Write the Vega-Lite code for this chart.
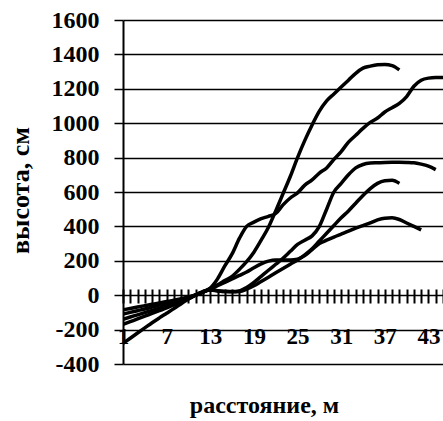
{
"$schema": "https://vega.github.io/schema/vega-lite/v6.json",
"width": 320, "height": 344,
"autosize": {"type": "none"},
"padding": {"left": 123, "top": 20, "right": 0, "bottom": 57},
"background": "white",
"config": {"view": {"stroke": null}, "font": "Liberation Serif"},
"data": {"values": [
{"s":"A","x":1,"y":-85},{"s":"A","x":2,"y":-77},{"s":"A","x":3,"y":-69},{"s":"A","x":4,"y":-61},{"s":"A","x":5,"y":-53},{"s":"A","x":6,"y":-45},{"s":"A","x":7,"y":-37},{"s":"A","x":8,"y":-29},{"s":"A","x":9,"y":-20},{"s":"A","x":10,"y":-10},{"s":"A","x":11,"y":2},{"s":"A","x":12,"y":18},{"s":"A","x":13,"y":38},{"s":"A","x":14,"y":60},{"s":"A","x":15,"y":85},{"s":"A","x":16,"y":110},{"s":"A","x":17,"y":150},{"s":"A","x":18,"y":195},{"s":"A","x":19,"y":250},{"s":"A","x":20,"y":320},{"s":"A","x":21,"y":395},{"s":"A","x":22,"y":490},{"s":"A","x":23,"y":590},{"s":"A","x":24,"y":690},{"s":"A","x":25,"y":800},{"s":"A","x":26,"y":900},{"s":"A","x":27,"y":990},{"s":"A","x":28,"y":1070},{"s":"A","x":29,"y":1130},{"s":"A","x":30,"y":1170},{"s":"A","x":31,"y":1210},{"s":"A","x":32,"y":1250},{"s":"A","x":33,"y":1290},{"s":"A","x":34,"y":1320},{"s":"A","x":35,"y":1332},{"s":"A","x":36,"y":1340},{"s":"A","x":37,"y":1342},{"s":"A","x":38,"y":1335},{"s":"A","x":39,"y":1310},
{"s":"B","x":1,"y":-110},{"s":"B","x":2,"y":-100},{"s":"B","x":3,"y":-90},{"s":"B","x":4,"y":-80},{"s":"B","x":5,"y":-69},{"s":"B","x":6,"y":-58},{"s":"B","x":7,"y":-47},{"s":"B","x":8,"y":-36},{"s":"B","x":9,"y":-24},{"s":"B","x":10,"y":-12},{"s":"B","x":11,"y":2},{"s":"B","x":12,"y":20},{"s":"B","x":13,"y":42},{"s":"B","x":14,"y":95},{"s":"B","x":15,"y":170},{"s":"B","x":16,"y":240},{"s":"B","x":17,"y":330},{"s":"B","x":18,"y":400},{"s":"B","x":19,"y":425},{"s":"B","x":20,"y":445},{"s":"B","x":21,"y":458},{"s":"B","x":22,"y":475},{"s":"B","x":23,"y":525},{"s":"B","x":24,"y":565},{"s":"B","x":25,"y":595},{"s":"B","x":26,"y":640},{"s":"B","x":27,"y":670},{"s":"B","x":28,"y":710},{"s":"B","x":29,"y":740},{"s":"B","x":30,"y":790},{"s":"B","x":31,"y":835},{"s":"B","x":32,"y":890},{"s":"B","x":33,"y":930},{"s":"B","x":34,"y":970},{"s":"B","x":35,"y":1005},{"s":"B","x":36,"y":1030},{"s":"B","x":37,"y":1065},{"s":"B","x":38,"y":1090},{"s":"B","x":39,"y":1115},{"s":"B","x":40,"y":1155},{"s":"B","x":41,"y":1215},{"s":"B","x":42,"y":1250},{"s":"B","x":43,"y":1262},{"s":"B","x":44,"y":1265},{"s":"B","x":45,"y":1265},
{"s":"C","x":1,"y":-170},{"s":"C","x":2,"y":-154},{"s":"C","x":3,"y":-138},{"s":"C","x":4,"y":-122},{"s":"C","x":5,"y":-106},{"s":"C","x":6,"y":-90},{"s":"C","x":7,"y":-74},{"s":"C","x":8,"y":-57},{"s":"C","x":9,"y":-39},{"s":"C","x":10,"y":-20},{"s":"C","x":11,"y":0},{"s":"C","x":12,"y":18},{"s":"C","x":13,"y":32},{"s":"C","x":14,"y":26},{"s":"C","x":15,"y":22},{"s":"C","x":16,"y":22},{"s":"C","x":17,"y":25},{"s":"C","x":18,"y":45},{"s":"C","x":19,"y":75},{"s":"C","x":20,"y":110},{"s":"C","x":21,"y":145},{"s":"C","x":22,"y":180},{"s":"C","x":23,"y":215},{"s":"C","x":24,"y":255},{"s":"C","x":25,"y":295},{"s":"C","x":26,"y":320},{"s":"C","x":27,"y":345},{"s":"C","x":28,"y":400},{"s":"C","x":29,"y":500},{"s":"C","x":30,"y":600},{"s":"C","x":31,"y":650},{"s":"C","x":32,"y":700},{"s":"C","x":33,"y":740},{"s":"C","x":34,"y":760},{"s":"C","x":35,"y":768},{"s":"C","x":36,"y":770},{"s":"C","x":37,"y":772},{"s":"C","x":38,"y":773},{"s":"C","x":39,"y":773},{"s":"C","x":40,"y":772},{"s":"C","x":41,"y":770},{"s":"C","x":42,"y":762},{"s":"C","x":43,"y":750},{"s":"C","x":44,"y":730},
{"s":"D","x":1,"y":-280},{"s":"D","x":2,"y":-250},{"s":"D","x":3,"y":-220},{"s":"D","x":4,"y":-190},{"s":"D","x":5,"y":-160},{"s":"D","x":6,"y":-132},{"s":"D","x":7,"y":-105},{"s":"D","x":8,"y":-78},{"s":"D","x":9,"y":-50},{"s":"D","x":10,"y":-22},{"s":"D","x":11,"y":2},{"s":"D","x":12,"y":20},{"s":"D","x":13,"y":30},{"s":"D","x":14,"y":25},{"s":"D","x":15,"y":22},{"s":"D","x":16,"y":20},{"s":"D","x":17,"y":22},{"s":"D","x":18,"y":35},{"s":"D","x":19,"y":55},{"s":"D","x":20,"y":80},{"s":"D","x":21,"y":105},{"s":"D","x":22,"y":130},{"s":"D","x":23,"y":155},{"s":"D","x":24,"y":180},{"s":"D","x":25,"y":205},{"s":"D","x":26,"y":235},{"s":"D","x":27,"y":270},{"s":"D","x":28,"y":315},{"s":"D","x":29,"y":360},{"s":"D","x":30,"y":405},{"s":"D","x":31,"y":450},{"s":"D","x":32,"y":490},{"s":"D","x":33,"y":535},{"s":"D","x":34,"y":580},{"s":"D","x":35,"y":620},{"s":"D","x":36,"y":650},{"s":"D","x":37,"y":665},{"s":"D","x":38,"y":668},{"s":"D","x":39,"y":650},
{"s":"E","x":1,"y":-140},{"s":"E","x":2,"y":-127},{"s":"E","x":3,"y":-114},{"s":"E","x":4,"y":-101},{"s":"E","x":5,"y":-88},{"s":"E","x":6,"y":-75},{"s":"E","x":7,"y":-62},{"s":"E","x":8,"y":-48},{"s":"E","x":9,"y":-33},{"s":"E","x":10,"y":-17},{"s":"E","x":11,"y":0},{"s":"E","x":12,"y":18},{"s":"E","x":13,"y":35},{"s":"E","x":14,"y":55},{"s":"E","x":15,"y":75},{"s":"E","x":16,"y":95},{"s":"E","x":17,"y":115},{"s":"E","x":18,"y":135},{"s":"E","x":19,"y":160},{"s":"E","x":20,"y":182},{"s":"E","x":21,"y":198},{"s":"E","x":22,"y":205},{"s":"E","x":23,"y":205},{"s":"E","x":24,"y":205},{"s":"E","x":25,"y":210},{"s":"E","x":26,"y":230},{"s":"E","x":27,"y":265},{"s":"E","x":28,"y":300},{"s":"E","x":29,"y":320},{"s":"E","x":30,"y":338},{"s":"E","x":31,"y":355},{"s":"E","x":32,"y":372},{"s":"E","x":33,"y":390},{"s":"E","x":34,"y":405},{"s":"E","x":35,"y":420},{"s":"E","x":36,"y":438},{"s":"E","x":37,"y":448},{"s":"E","x":38,"y":450},{"s":"E","x":39,"y":440},{"s":"E","x":40,"y":420},{"s":"E","x":41,"y":400},{"s":"E","x":42,"y":380}
]},
"mark": {"type": "line", "color": "black", "strokeWidth": 3.5, "interpolate": "monotone", "clip": true},
"encoding": {
"x": {"field": "x", "type": "quantitative",
 "scale": {"domain": [1, 45], "nice": false, "zero": false},
 "axis": {"orient": "bottom", "offset": -75,
  "values": [1,2,3,4,5,6,7,8,9,10,11,12,13,14,15,16,17,18,19,20,21,22,23,24,25,26,27,28,29,30,31,32,33,34,35,36,37,38,39,40,41,42,43,44,45],
  "labelExpr": "(datum.value - 1) % 6 === 0 ? '' + datum.value : ''",
  "domain": false, "grid": false, "ticks": true, "tickSize": 14, "tickWidth": 2, "tickColor": "black",
  "labelFont": "Liberation Serif", "labelFontWeight": "bold", "labelFontSize": 23, "labelColor": "black",
  "labelPadding": 22, "labelAngle": 0, "labelFlush": false, "labelOverlap": false,
  "title": "расстояние, м", "titleFont": "Liberation Serif", "titleFontSize": 24, "titleFontWeight": "bold", "titleColor": "black",
  "titleX": 141, "titleY": 116, "titleAlign": "center", "titleBaseline": "middle"}},
"y": {"field": "y", "type": "quantitative",
 "scale": {"domain": [-400, 1600], "nice": false, "zero": false},
 "axis": {"values": [-400,-200,0,200,400,600,800,1000,1200,1400,1600],
  "labelExpr": "'' + datum.value",
  "grid": true, "gridColor": "black", "gridWidth": 1.5, "gridOpacity": 1,
  "domain": true, "domainColor": "black", "domainWidth": 2,
  "ticks": true, "tickSize": 9, "tickColor": "black", "tickWidth": 1.5,
  "labelFont": "Liberation Serif", "labelFontWeight": "bold", "labelFontSize": 24, "labelColor": "black", "labelPadding": 15,
  "title": "высота, см", "titleFont": "Liberation Serif", "titleFontSize": 26, "titleFontWeight": "bold", "titleColor": "black",
  "titleX": -103, "titleY": 170, "titleAngle": 270, "titleAlign": "center", "titleBaseline": "middle"}},
"detail": {"field": "s", "type": "nominal"}
}
}
